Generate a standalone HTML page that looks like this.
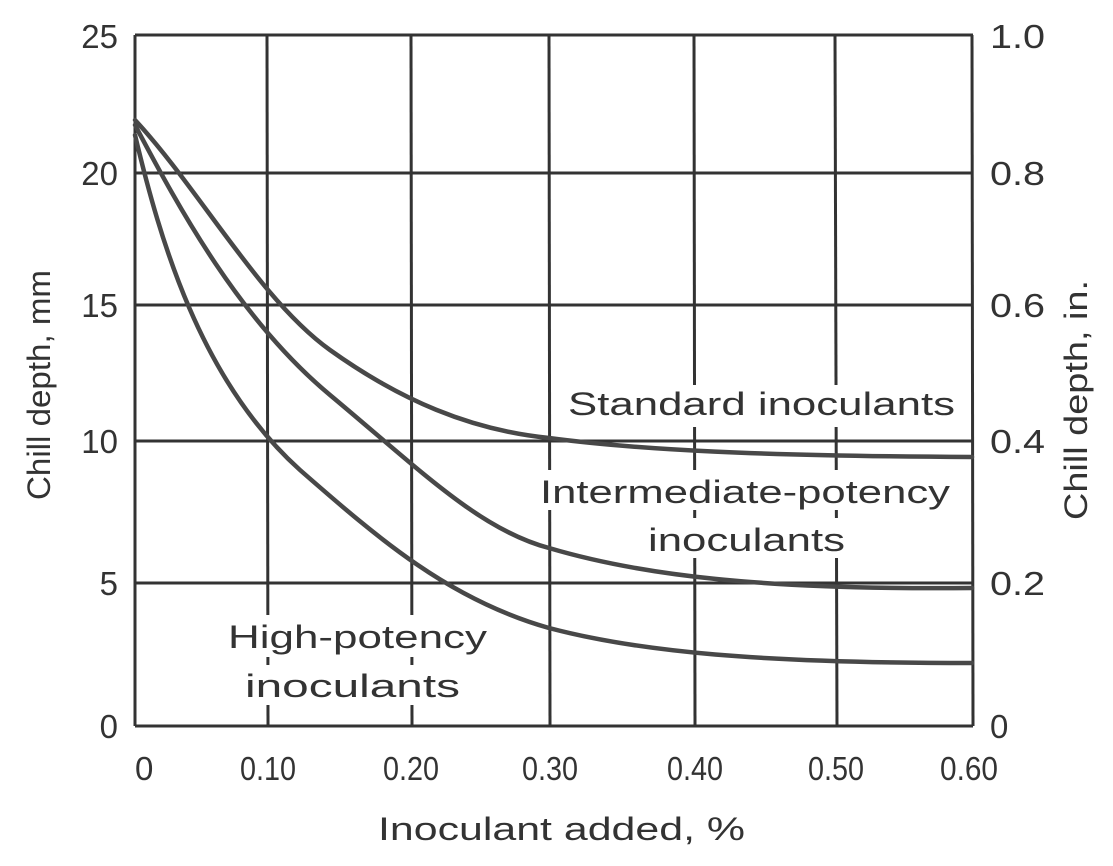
<!DOCTYPE html>
<html><head><style>
body{margin:0;background:#fff;}
svg{display:block;font-family:"Liberation Sans",sans-serif;}
</style></head><body>
<svg width="1113" height="866" viewBox="0 0 1113 866">
<g stroke="#333" stroke-width="3" fill="none">
<line x1="135" y1="35" x2="973" y2="35"/>
<line x1="135" y1="173" x2="973" y2="173"/>
<line x1="135" y1="305" x2="973" y2="305"/>
<line x1="135" y1="441" x2="973" y2="441"/>
<line x1="135" y1="583" x2="973" y2="583"/>
<line x1="135" y1="726" x2="973" y2="726"/>
<line x1="135" y1="35" x2="135" y2="726"/>
<line x1="267" y1="35" x2="268" y2="726"/>
<line x1="411" y1="35" x2="412" y2="726"/>
<line x1="549" y1="35" x2="550" y2="726"/>
<line x1="694" y1="35" x2="695" y2="726"/>
<line x1="835" y1="35" x2="837" y2="726"/>
<line x1="972" y1="35" x2="973" y2="726"/>
</g>
<rect x="565" y="385" width="395" height="42" fill="#fff"/>
<rect x="540" y="470" width="415" height="40" fill="#fff"/>
<rect x="645" y="518" width="205" height="40" fill="#fff"/>
<rect x="226" y="615" width="265" height="42" fill="#fff"/>
<rect x="243" y="665" width="220" height="40" fill="#fff"/>
<g stroke="#484848" stroke-width="4.5" fill="none" stroke-linecap="round">
<path d="M135,120 C200,190 260,300 330,350 C400,400 470,430 549,438 C640,450 760,456 972,457"/>
<path d="M135,125 C180,210 240,320 330,395 C420,470 480,530 549,548 C640,575 760,590 972,588"/>
<path d="M135,135 C160,240 200,380 300,470 C380,540 450,600 549,628 C640,652 760,663 972,663"/>
</g>
<g fill="#333" font-size="33">
<text x="118" y="48" text-anchor="end">25</text>
<text x="118" y="185" text-anchor="end">20</text>
<text x="118" y="317" text-anchor="end">15</text>
<text x="118" y="453" text-anchor="end">10</text>
<text x="118" y="595" text-anchor="end">5</text>
<text x="118" y="738" text-anchor="end">0</text>
<text x="990" y="48" textLength="55" lengthAdjust="spacingAndGlyphs">1.0</text>
<text x="990" y="185" textLength="55" lengthAdjust="spacingAndGlyphs">0.8</text>
<text x="990" y="317" textLength="55" lengthAdjust="spacingAndGlyphs">0.6</text>
<text x="990" y="453" textLength="55" lengthAdjust="spacingAndGlyphs">0.4</text>
<text x="990" y="595" textLength="55" lengthAdjust="spacingAndGlyphs">0.2</text>
<text x="990" y="738">0</text>
<text x="135" y="780">0</text>
<text x="240" y="780" textLength="56" lengthAdjust="spacingAndGlyphs">0.10</text>
<text x="383" y="780" textLength="56" lengthAdjust="spacingAndGlyphs">0.20</text>
<text x="522" y="780" textLength="56" lengthAdjust="spacingAndGlyphs">0.30</text>
<text x="667" y="780" textLength="56" lengthAdjust="spacingAndGlyphs">0.40</text>
<text x="808" y="780" textLength="56" lengthAdjust="spacingAndGlyphs">0.50</text>
<text x="940" y="780" textLength="58" lengthAdjust="spacingAndGlyphs">0.60</text>
</g>
<g fill="#333" font-size="32">
<text x="378" y="840" textLength="367" lengthAdjust="spacingAndGlyphs">Inoculant added, %</text>
<text transform="translate(50,500) rotate(-90)" textLength="230" lengthAdjust="spacingAndGlyphs">Chill depth, mm</text>
<text transform="translate(1087,520) rotate(-90)" textLength="240" lengthAdjust="spacingAndGlyphs">Chill depth, in.</text>
<text x="568" y="415" textLength="387" lengthAdjust="spacingAndGlyphs">Standard inoculants</text>
<text x="540" y="503" textLength="410" lengthAdjust="spacingAndGlyphs">Intermediate-potency</text>
<text x="648" y="551" textLength="197" lengthAdjust="spacingAndGlyphs">inoculants</text>
<text x="228" y="648" textLength="259" lengthAdjust="spacingAndGlyphs">High-potency</text>
<text x="245" y="697" textLength="215" lengthAdjust="spacingAndGlyphs">inoculants</text>
</g>
</svg>
</body></html>
